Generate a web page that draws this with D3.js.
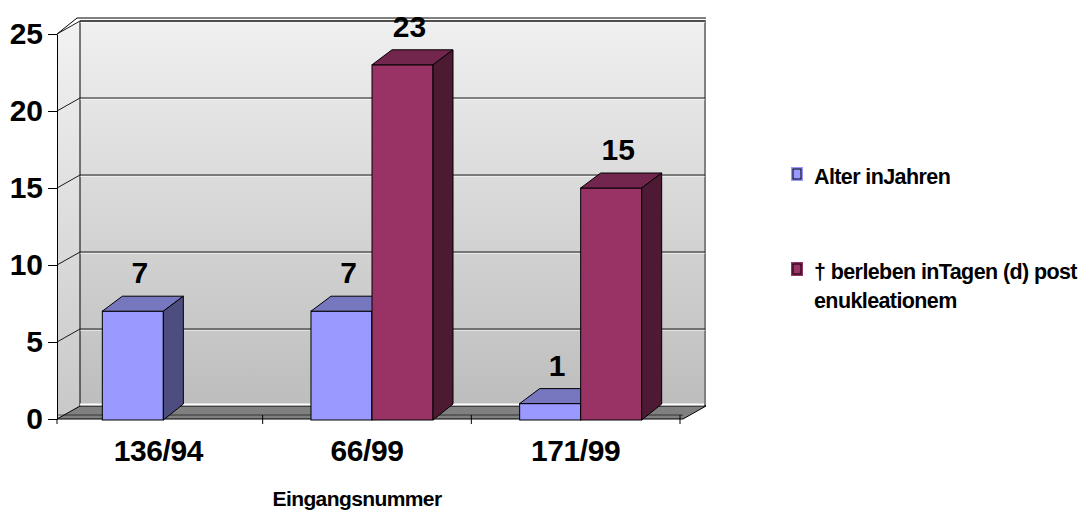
<!DOCTYPE html>
<html>
<head>
<meta charset="utf-8">
<script src="https://cdn.jsdelivr.net/npm/d3@7"></script>
<style>
    body { margin: 0; background: #fff; }
    svg text { font-family: "Liberation Sans", Arial, sans-serif; font-weight: bold; fill: #000; }
</style>
</head>
<body>
<svg id="chart" width="1080" height="512"></svg>
<script>
// Chart data
const categories = ['136/94', '66/99', '171/99'];
const seriesKeys = ['alter', 'ueberleben'];
const alterValues = [7, 7, 1];
const ueberlebenValues = [null, 23, 15];
const yTicks = [0, 5, 10, 15, 20, 25];
const legendLabels = [['Alter inJahren'], ['† berleben inTagen (d) post', 'enukleationem']];
const axisTitle = 'Eingangsnummer';

const colors = {
    alter: { front: '#9999ff', top: '#7777c0', side: '#4d4d80' },
    ueberleben: { front: '#993366', top: '#73264d', side: '#4d1a33' }
};

// Oblique projection offsets (walls / bars)
const wallDx = 23, wallDy = -13;
const barDx = 20, barDy = -15;
const plotLeft = 57, plotRight = 683;

const svg = d3.select('#chart');

const yScale = d3.scaleLinear().domain([0, 25]).range([419, 34]);
const x0 = d3.scaleBand().domain(categories).range([54, 680]).paddingInner(0).paddingOuter(0);
const x1 = d3.scaleBand().domain(seriesKeys).range([0, x0.bandwidth()]).paddingInner(0).paddingOuter(0.71);
const barShift = 5;

const defs = svg.append('defs');
const wallGrad = defs.append('linearGradient').attr('id', 'wallGrad')
    .attr('x1', 0).attr('y1', 0).attr('x2', 0).attr('y2', 1);
wallGrad.append('stop').attr('offset', '0%').attr('stop-color', '#f0f0f0');
wallGrad.append('stop').attr('offset', '100%').attr('stop-color', '#bdbdbd');
const sideGrad = defs.append('linearGradient').attr('id', 'sideGrad')
    .attr('x1', 0).attr('y1', 0).attr('x2', 0).attr('y2', 1);
sideGrad.append('stop').attr('offset', '0%').attr('stop-color', '#f2f2f2');
sideGrad.append('stop').attr('offset', '100%').attr('stop-color', '#c8c8c8');

const y0 = yScale(0), yMax = yScale(25);

// Back wall
svg.append('rect')
    .attr('x', plotLeft + wallDx)
    .attr('y', yMax + wallDy)
    .attr('width', plotRight - plotLeft)
    .attr('height', y0 - yMax)
    .attr('fill', 'url(#wallGrad)');

// Side wall
svg.append('polygon')
    .attr('points', [[plotLeft, yMax], [plotLeft + wallDx, yMax + wallDy],
        [plotLeft + wallDx, y0 + wallDy], [plotLeft, y0]].join(' '))
    .attr('fill', 'url(#sideGrad)');

// Wall border (top + right) and top edge
svg.append('path')
    .attr('d', `M${plotLeft + wallDx},${yMax + wallDy} H${plotRight + wallDx - 1} V${y0 + wallDy}`)
    .attr('fill', 'none').attr('stroke', '#808080').attr('stroke-width', 2);
svg.append('path')
    .attr('d', `M${plotLeft},${yMax} L${plotLeft + wallDx - 3},${yMax + wallDy - 3} H${plotRight + wallDx}`)
    .attr('fill', 'none').attr('stroke', '#000').attr('stroke-width', 1);
svg.append('line')
    .attr('x1', plotLeft + wallDx).attr('x2', plotLeft + wallDx)
    .attr('y1', yMax + wallDy).attr('y2', y0 + wallDy)
    .attr('stroke', '#000');

// Gridlines on back and side wall
const grid = svg.append('g').attr('class', 'grid');
yTicks.filter(t => t > 0).forEach(t => {
    const y = yScale(t);
    grid.append('path')
        .attr('d', `M${plotLeft},${y} L${plotLeft + wallDx},${y + wallDy} H${plotRight + wallDx - 1}`)
        .attr('fill', 'none').attr('stroke', '#1a1a1a').attr('stroke-width', 1);
    grid.append('path')
        .attr('d', `M${plotLeft + wallDx},${y + wallDy + 1.5} H${plotRight + wallDx - 1}`)
        .attr('fill', 'none').attr('stroke', '#ffffff').attr('stroke-opacity', 0.5).attr('stroke-width', 1);
});

// Floor
svg.append('polygon')
    .attr('points', [[plotLeft, y0], [plotLeft + wallDx, y0 + wallDy],
        [plotRight + wallDx, y0 + wallDy], [plotRight, y0]].join(' '))
    .attr('fill', '#808080').attr('stroke', '#000').attr('stroke-width', 1);
svg.append('line')
    .attr('x1', plotLeft + wallDx).attr('x2', plotRight + wallDx - 2)
    .attr('y1', y0 + wallDy - 1.5).attr('y2', y0 + wallDy - 1.5)
    .attr('stroke', '#fff').attr('stroke-width', 2);
svg.append('line')
    .attr('x1', plotLeft).attr('x2', plotRight)
    .attr('y1', y0 - 4).attr('y2', y0 - 4)
    .attr('stroke', '#000').attr('stroke-opacity', 0.6);

// Bars
const barData = [];
categories.forEach((c, i) => {
    if (alterValues[i] != null) barData.push({ cat: c, key: 'alter', value: alterValues[i] });
    if (ueberlebenValues[i] != null) barData.push({ cat: c, key: 'ueberleben', value: ueberlebenValues[i] });
});

const bars = svg.append('g').attr('class', 'bars')
    .selectAll('g.bar')
    .data(barData)
    .join('g')
    .attr('class', 'bar');

const bx = d => x0(d.cat) + x1(d.key) + barShift;
const bw = x1.bandwidth();

bars.append('rect')
    .attr('x', d => bx(d))
    .attr('y', d => yScale(d.value))
    .attr('width', bw)
    .attr('height', d => y0 + 1 - yScale(d.value))
    .attr('fill', d => colors[d.key].front)
    .attr('stroke', '#000').attr('stroke-width', 1);

bars.append('polygon')
    .attr('points', d => {
        const x = bx(d), y = yScale(d.value);
        return [[x, y], [x + barDx, y + barDy], [x + bw + barDx, y + barDy], [x + bw, y]].join(' ');
    })
    .attr('fill', d => colors[d.key].top)
    .attr('stroke', '#000').attr('stroke-width', 1).attr('stroke-linejoin', 'round');

bars.append('polygon')
    .attr('points', d => {
        const x = bx(d) + bw, y = yScale(d.value);
        return [[x, y], [x + barDx, y + barDy], [x + barDx, y0 + barDy], [x, y0 + 1]].join(' ');
    })
    .attr('fill', d => colors[d.key].side)
    .attr('stroke', '#000').attr('stroke-width', 1).attr('stroke-linejoin', 'round');

// Data labels
bars.append('text')
    .attr('x', d => bx(d) + bw / 2 + barDx / 2 - 3)
    .attr('y', d => yScale(d.value) + barDy - 13)
    .attr('text-anchor', 'middle')
    .attr('font-size', 30)
    .text(d => d.value);

// Y axis
const yAxis = d3.axisLeft(yScale)
    .tickValues(yTicks)
    .tickSize(9)
    .tickPadding(5)
    .tickSizeOuter(0);
const yAxisG = svg.append('g')
    .attr('class', 'axis y-axis')
    .attr('transform', `translate(${plotLeft},0)`)
    .call(yAxis);
yAxisG.select('.domain').attr('stroke', '#000');
yAxisG.selectAll('.tick line').attr('stroke', '#000');
yAxisG.selectAll('.tick text')
    .attr('font-size', 30)
    .attr('font-family', '"Liberation Sans", Arial, sans-serif')
    .attr('font-weight', 'bold')
    .attr('fill', '#000');

// X axis (labels at category centres, ticks at category boundaries)
const xAxis = d3.axisBottom(x0).tickSize(0).tickPadding(21).tickSizeOuter(0);
const xAxisG = svg.append('g')
    .attr('class', 'axis x-axis')
    .attr('transform', `translate(0,${y0})`)
    .call(xAxis);
xAxisG.select('.domain').remove();
xAxisG.selectAll('.tick text')
    .attr('font-size', 30)
    .attr('letter-spacing', -0.4)
    .attr('font-family', '"Liberation Sans", Arial, sans-serif')
    .attr('font-weight', 'bold')
    .attr('fill', '#000');
xAxisG.selectAll('.boundary')
    .data(categories)
    .join('line')
    .attr('class', 'boundary')
    .attr('x1', d => x0(d) + x0.step())
    .attr('x2', d => x0(d) + x0.step())
    .attr('y1', -4).attr('y2', 5)
    .attr('stroke', '#000');
svg.append('line')
    .attr('x1', plotLeft).attr('x2', plotLeft)
    .attr('y1', y0).attr('y2', y0 + 5)
    .attr('stroke', '#000');

// Axis title
svg.append('text')
    .attr('x', 357)
    .attr('y', 506)
    .attr('text-anchor', 'middle')
    .attr('font-size', 21)
    .attr('letter-spacing', -0.6)
    .text(axisTitle);

// Legend
const legend = svg.append('g').attr('class', 'legend');
const legendY = [167, 262];
seriesKeys.forEach((key, i) => {
    const g = legend.append('g').attr('transform', `translate(791,${legendY[i]})`);
    g.append('rect').attr('width', 12).attr('height', 14).attr('fill', colors[key].front);
    g.append('rect').attr('x', 2).attr('y', 2).attr('width', 8).attr('height', 10)
        .attr('fill', 'none').attr('stroke', '#000').attr('stroke-width', 1);
    const t = g.append('text')
        .attr('x', 23)
        .attr('y', 17)
        .attr('font-size', 21.5)
        .attr('letter-spacing', -0.6);
    legendLabels[i].forEach((line, j) => {
        t.append('tspan').attr('x', 23).attr('dy', j === 0 ? 0 : 29).text(line);
    });
});
</script>
</body>
</html>
